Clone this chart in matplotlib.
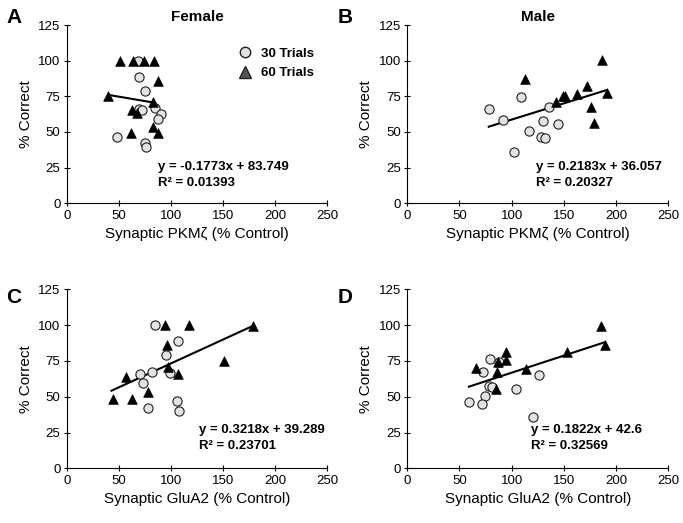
import matplotlib
matplotlib.use("Agg")
import matplotlib.pyplot as plt
from matplotlib.lines import Line2D

plt.rcParams['font.family'] = ['Liberation Sans', 'DejaVu Sans']

# Female, synaptic PKMzeta
fem_pkm_30_x = [68, 69.6, 75.4, 69.6, 71.9, 84.7, 90.1, 87.8, 47.9, 74.8, 75.7]
fem_pkm_30_y = [100, 88.7, 78.9, 66.1, 65.4, 66.6, 62.6, 58.9, 46.7, 42.5, 39.5]
fem_pkm_60_x = [39.9, 51, 63.9, 74, 83.7, 87.2, 82.4, 62.3, 67.1, 61.3, 83, 87.2]
fem_pkm_60_y = [75.4, 100, 100, 100, 100, 85.7, 71.3, 65.4, 63.5, 49.1, 53.7, 49.1]

# Male, synaptic PKMzeta
male_pkm_30_x = [77.9, 91.3, 109.3, 135.4, 130, 144.1, 116.6, 128.2, 132, 101.9]
male_pkm_30_y = [65.9, 58.4, 74.7, 67.7, 57.9, 55.6, 50.9, 46.7, 45.8, 36.2]
male_pkm_60_x = [112.7, 142.4, 148.8, 151, 162.3, 171.8, 186.2, 191, 175.9, 178.4]
male_pkm_60_y = [86.9, 71.2, 75.4, 75.4, 76.4, 82.2, 100.4, 77.5, 67.7, 56.1]

# Female, synaptic GluA2
fem_glu_30_x = [84.7, 106.4, 94.9, 70.3, 81.5, 99, 73.5, 105.4, 107.7, 78.2]
fem_glu_30_y = [100, 88.9, 79.3, 65.9, 67, 66.3, 59.4, 47.2, 40.2, 41.9]
fem_glu_60_x = [94.2, 117.6, 96.5, 97.4, 107, 56.9, 78.2, 44.1, 62.3, 178.7, 150.8]
fem_glu_60_y = [100, 100, 86.1, 71, 65.9, 63.5, 53.5, 48.4, 48.4, 99.6, 75.1]

# Male, synaptic GluA2
male_glu_30_x = [79.3, 88.2, 72.4, 78.7, 81, 74.7, 59.3, 71.7, 104.2, 126.5, 120.8]
male_glu_30_y = [76.1, 74.5, 67.5, 57.5, 57, 50.5, 46.1, 44.9, 55.2, 65.2, 36.1]
male_glu_60_x = [66, 87.3, 94.6, 94.6, 86.3, 113.8, 84.8, 152.7, 185.2, 189.4]
male_glu_60_y = [70.3, 74.5, 81.4, 75.6, 67.5, 69.3, 55.4, 81.4, 99.4, 86.1]

# trendline ends as drawn in the figure
trend_x = [[40, 82], [78, 191], [43, 179], [59, 189]]
trend_y = [[76, 70.8], [53.7, 79.4], [54.2, 99.6], [57, 88]]
eq_text = ["y = -0.1773x + 83.749", "y = 0.2183x + 36.057",
           "y = 0.3218x + 39.289", "y = 0.1822x + 42.6"]
r2_text = ["R² = 0.01393", "R² = 0.20327", "R² = 0.23701", "R² = 0.32569"]
eq_pos = [(87.5, 25.4), (123.3, 25.4), (126.8, 26.7), (118.5, 26.7)]

panels = [(fem_pkm_30_x, fem_pkm_30_y, fem_pkm_60_x, fem_pkm_60_y),
          (male_pkm_30_x, male_pkm_30_y, male_pkm_60_x, male_pkm_60_y),
          (fem_glu_30_x, fem_glu_30_y, fem_glu_60_x, fem_glu_60_y),
          (male_glu_30_x, male_glu_30_y, male_glu_60_x, male_glu_60_y)]
xlabels = ["Synaptic PKMζ (% Control)"] * 2 + ["Synaptic GluA2 (% Control)"] * 2
titles = ["Female", "Male", "", ""]
letters = ["A", "B", "C", "D"]

fig = plt.figure(figsize=(6.83, 5.23), dpi=100)
W, H = 683, 523
rects = [(66.7, 25, 327.3, 203.3), (407.3, 25, 668.3, 203.3),
         (66.7, 289.3, 327.3, 468.3), (407.3, 289.3, 668.3, 468.3)]
letter_pos = [(6, 8), (338, 8), (6, 288), (338, 288)]

for i, (x30, y30, x60, y60) in enumerate(panels):
    l, t, r, b = rects[i]
    ax = fig.add_axes([l / W, 1 - b / H, (r - l) / W, (b - t) / H])
    ax.spines['top'].set_visible(False)
    ax.spines['right'].set_visible(False)
    ax.set_xlim(0, 250)
    ax.set_ylim(0, 125)
    ax.set_xticks([0, 50, 100, 150, 200, 250])
    ax.set_yticks([0, 25, 50, 75, 100, 125])
    ax.tick_params(direction='inout', length=5, width=0.8, labelsize=9.5, pad=2)
    ax.set_xlabel(xlabels[i], fontsize=11, labelpad=4)
    ax.set_ylabel("% Correct", fontsize=11, labelpad=4)

    ax.plot(trend_x[i], trend_y[i], color='black', lw=1.5, zorder=2)
    ax.scatter(x30, y30, marker='o', s=44, facecolor='#e2e2e2',
               edgecolor='#222222', linewidth=0.8, zorder=3)
    ax.scatter(x60, y60, marker='^', s=48, facecolor='black',
               edgecolor='black', linewidth=0.5, zorder=4)

    ex, ey = eq_pos[i]
    ax.text(ex, ey, eq_text[i], fontsize=9.5, fontweight='bold', va='center')
    ax.text(ex, ey - 11.2, r2_text[i], fontsize=9.5, fontweight='bold', va='center')

    if titles[i]:
        ax.set_title(titles[i], fontsize=11, fontweight='bold', pad=3)
    fig.text(letter_pos[i][0] / W, 1 - letter_pos[i][1] / H, letters[i],
             fontsize=15, fontweight='bold', va='top', ha='left')

    if i == 0:
        handles = [Line2D([], [], marker='o', ls='', markersize=7.5,
                          markerfacecolor='#e2e2e2', markeredgecolor='#222222'),
                   Line2D([], [], marker='^', ls='', markersize=8,
                          markerfacecolor='#555555', markeredgecolor='#222222')]
        ax.legend(handles, ["30 Trials", "60 Trials"], loc='upper left',
                  bbox_to_anchor=(0.607, 0.94), frameon=False,
                  prop={'weight': 'bold', 'size': 9.5}, handletextpad=0.6,
                  labelspacing=0.55, handlelength=1.2)

fig.savefig("out.png", dpi=100)
